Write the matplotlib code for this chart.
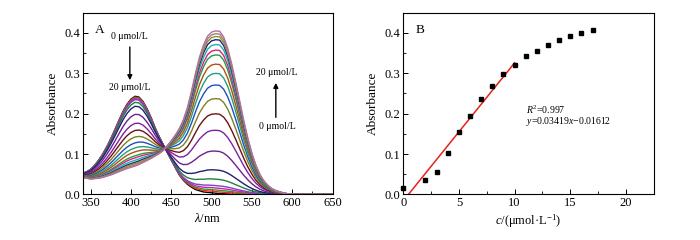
import numpy as np
import matplotlib
matplotlib.use("Agg")
import matplotlib.pyplot as plt
from matplotlib.ticker import MultipleLocator

plt.rcParams['font.family'] = ['Liberation Serif', 'DejaVu Serif']
plt.rcParams['mathtext.fontset'] = 'custom'
plt.rcParams['mathtext.rm'] = 'Liberation Serif'
plt.rcParams['mathtext.it'] = 'Liberation Serif:italic'

# ---- Panel A data: absorption spectra ----
wavelength = list(range(340, 655, 5))
# spectrum without analyte (0 umol/L)
spectrum_free = [0.052, 0.056, 0.062, 0.072, 0.085, 0.100, 0.118, 0.138, 0.160, 0.183,
                 0.205, 0.223, 0.236, 0.243, 0.241, 0.230, 0.212, 0.190, 0.165, 0.143,
                 0.123, 0.104, 0.085, 0.066, 0.048, 0.035, 0.025, 0.018, 0.012, 0.009,
                 0.006, 0.005, 0.004, 0.003, 0.002, 0.0015, 0.001, 0.0005] + [0.0] * 25
# spectrum at saturation (20 umol/L)
spectrum_complex = [0.042, 0.040, 0.038, 0.039, 0.040, 0.042, 0.045, 0.048, 0.052, 0.056,
                    0.060, 0.064, 0.067, 0.070, 0.074, 0.079, 0.084, 0.089, 0.095, 0.101,
                    0.109, 0.120, 0.133, 0.147, 0.163, 0.185, 0.215, 0.255, 0.300, 0.340,
                    0.370, 0.392, 0.402, 0.405, 0.404, 0.390, 0.362, 0.323, 0.278, 0.230,
                    0.182, 0.139, 0.102, 0.072, 0.049, 0.033, 0.022, 0.014, 0.009, 0.006,
                    0.003, 0.0015, 0.0005] + [0.0] * 10
# absorbance at ~507 nm of each recorded spectrum (0 -> 20 umol/L)
peak_507 = [0.0, 0.004, 0.008, 0.013, 0.019, 0.035, 0.058, 0.105, 0.157, 0.198, 0.236,
            0.270, 0.299, 0.322, 0.345, 0.357, 0.371, 0.383, 0.391, 0.398, 0.405]
curve_colors = ['#000000', '#ff2020', '#2a9d2a', '#d020b0', '#8040c0', '#208040',
                '#202070', '#702090', '#8020a0', '#701010', '#808020', '#2050c0',
                '#20a080', '#b05010', '#20a040', '#e02080', '#20b0b0', '#202080',
                '#909030', '#a08070', '#b070a0']

# ---- Panel B data: calibration ----
concentration = [0, 2, 3, 4, 5, 6, 7, 8, 9, 10, 11, 12, 13, 14, 15, 16, 17]
absorbance = [0.017, 0.035, 0.055, 0.102, 0.154, 0.195, 0.236, 0.269, 0.298, 0.321,
              0.343, 0.356, 0.371, 0.383, 0.392, 0.399, 0.406]
fit_slope = 0.03419
fit_intercept = -0.01612
fit_range = [-fit_intercept / fit_slope, 10]

fig = plt.figure(figsize=(7, 2.4), dpi=100)
axA = fig.add_axes([0.118, 0.190, 0.357, 0.757])
axB = fig.add_axes([0.576, 0.190, 0.358, 0.757])

wl = np.array(wavelength)
s0 = np.array(spectrum_free)
s1 = np.array(spectrum_complex)
smax = s1.max()
for a, c in zip(peak_507, curve_colors):
    f = a / smax
    axA.plot(wl, (1 - f) * s0 + f * s1, color=c, lw=1.0)

axA.set_xlim(340, 650)
axA.set_ylim(0, 0.45)
axA.xaxis.set_major_locator(MultipleLocator(50))
axA.xaxis.set_minor_locator(MultipleLocator(25))
axA.yaxis.set_major_locator(MultipleLocator(0.1))
axA.yaxis.set_minor_locator(MultipleLocator(0.05))
axA.set_xlabel(r'$\lambda$/nm', fontsize=9, labelpad=2)
axA.set_ylabel('Absorbance', fontsize=9.5, labelpad=4)
axA.text(0.05, 0.94, 'A', transform=axA.transAxes, fontsize=9.5, va='top', ha='left')
axA.text(398.6, 0.390, '0 μmol/L', fontsize=7, ha='center', va='center')
axA.annotate('', xy=(398.6, 0.276), xytext=(398.6, 0.372),
             arrowprops=dict(arrowstyle='-|>', color='black', lw=1.0, mutation_scale=7))
axA.text(398.6, 0.264, '20 μmol/L', fontsize=7, ha='center', va='center')
axA.text(581, 0.303, '20 μmol/L', fontsize=7, ha='center', va='center')
axA.annotate('', xy=(579.7, 0.283), xytext=(579.7, 0.184),
             arrowprops=dict(arrowstyle='-|>', color='black', lw=1.0, mutation_scale=7))
axA.text(581, 0.169, '0 μmol/L', fontsize=7, ha='center', va='center')

axB.plot(fit_range, [fit_slope * x + fit_intercept for x in fit_range], color='#e8201c', lw=1.1)
axB.plot(concentration, absorbance, 's', color='black', ms=3.5, clip_on=False, zorder=3)
axB.set_xlim(0, 22.5)
axB.set_ylim(0, 0.45)
axB.xaxis.set_major_locator(MultipleLocator(5))
axB.xaxis.set_minor_locator(MultipleLocator(2.5))
axB.yaxis.set_major_locator(MultipleLocator(0.1))
axB.yaxis.set_minor_locator(MultipleLocator(0.05))
axB.set_xlabel(r'$c$/(μmol·L$^{-1}$)', fontsize=9, labelpad=2)
axB.set_ylabel('Absorbance', fontsize=9.5, labelpad=4)
axB.text(0.05, 0.94, 'B', transform=axB.transAxes, fontsize=9.5, va='top', ha='left')
axB.text(11.0, 0.209, r'$R^2$=0.997', fontsize=7, ha='left', va='center')
axB.text(11.0, 0.180, r'$y$=0.03419$x$$-$0.01612', fontsize=7, ha='left', va='center')

for ax in (axA, axB):
    ax.tick_params(which='both', direction='in', top=False, right=False, labelsize=9, pad=2)
    ax.tick_params(which='major', length=3.5, width=0.7)
    ax.tick_params(which='minor', length=2, width=0.6)
    for sp in ax.spines.values():
        sp.set_linewidth(0.8)

fig.savefig('out.png', dpi=100)
